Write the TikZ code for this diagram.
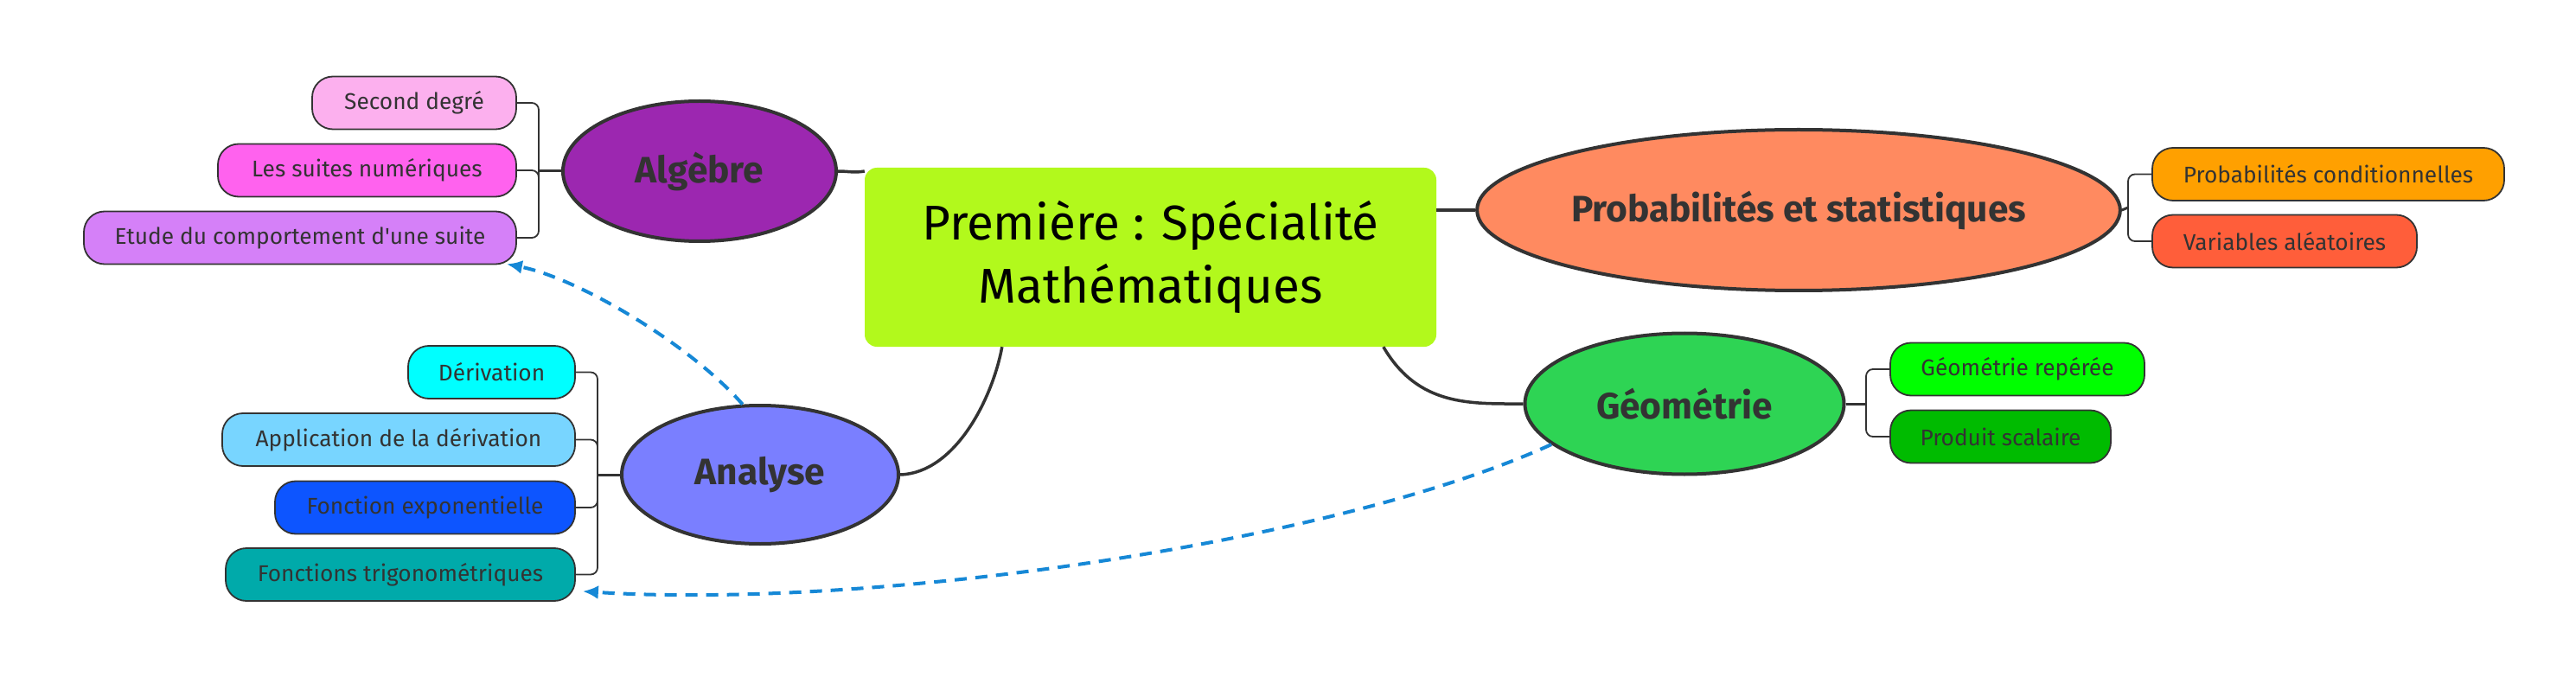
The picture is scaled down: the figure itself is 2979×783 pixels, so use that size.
\documentclass[tikz,border=0pt]{standalone}
\usepackage{fontspec}
\setmainfont{Fira Sans}[Ligatures=TeXOff]
\usetikzlibrary{shapes.geometric,arrows.meta,calc}
\definecolor{ink}{HTML}{333333}
\definecolor{cmain}{HTML}{B2F91C}
\definecolor{calg}{HTML}{9C27B0}
\definecolor{csd}{HTML}{FCB0EE}
\definecolor{cls}{HTML}{FF62EE}
\definecolor{cet}{HTML}{D580F8}
\definecolor{cana}{HTML}{7A7FFF}
\definecolor{cdv}{HTML}{00FFFF}
\definecolor{cap}{HTML}{78D5FF}
\definecolor{cfe}{HTML}{0D55FF}
\definecolor{ctr}{HTML}{00AAAA}
\definecolor{cprob}{HTML}{FF8A60}
\definecolor{cpc}{HTML}{FFA000}
\definecolor{cva}{HTML}{FF5E3A}
\definecolor{cgeo}{HTML}{2ED454}
\definecolor{cgr}{HTML}{00FF00}
\definecolor{cps}{HTML}{00BB00}
\definecolor{cdash}{HTML}{1688D6}
\begin{document}
\begin{tikzpicture}[x=1pt,y=-1pt,
  leaf/.style={draw=ink,line width=1.8pt,rounded corners=24pt,minimum height=61pt,inner sep=0pt,
    text=ink,font=\fontsize{26.3}{30}\selectfont},
  topic/.style={ellipse,draw=ink,line width=4pt,inner sep=0pt,text=ink,
    font=\fontsize{42.5}{48}\selectfont\bfseries},
  trunk/.style={draw=ink,line width=3.5pt},
  twig/.style={draw=ink,line width=1.8pt,rounded corners=8pt},
  stub/.style={draw=ink,line width=3pt},
  xref/.style={draw=cdash,line width=4pt,dash pattern=on 14pt off 10pt,
    -{Latex[length=18pt,width=16pt]}}]
\useasboundingbox[fill=white] (0,0) rectangle (2979,783);

% central
\node[fill=cmain,rounded corners=14pt,minimum width=661pt,minimum height=207pt,inner sep=0pt,
  align=center,font=\fontsize{56.5}{73}\selectfont] (c) at (1330.5,297.5)
  {Première : Spécialité\\Mathématiques};

% topics
\node[topic,fill=calg,minimum width=316pt,minimum height=162pt] (alg) at (809,198) {Algèbre};
\node[topic,fill=cana,minimum width=320pt,minimum height=160pt] (ana) at (879,549) {Analyse};
\node[topic,fill=cprob,minimum width=712pt,minimum height=186pt] (prob) at (2080,243) {Probabilités et statistiques};
\node[topic,fill=cgeo,minimum width=369pt,minimum height=163pt] (geo) at (1948,467) {Géométrie};

% Algebre leaves
\node[leaf,fill=csd,minimum width=236pt] (sd) at (479,119) {Second degré};
\node[leaf,fill=cls,minimum width=345pt] (ls) at (424.5,197) {Les suites numériques};
\node[leaf,fill=cet,minimum width=500pt] (et) at (347,275) {Etude du comportement d'une suite};
% Analyse leaves
\node[leaf,fill=cdv,minimum width=193pt] (dv) at (568.5,430.5) {Dérivation};
\node[leaf,fill=cap,minimum width=408pt] (ap) at (461,508.5) {Application de la dérivation};
\node[leaf,fill=cfe,minimum width=347pt] (fe) at (491.5,587) {Fonction exponentielle};
\node[leaf,fill=ctr,minimum width=404pt] (tr) at (463,664.5) {Fonctions trigonométriques};
% Probabilites leaves
\node[leaf,fill=cpc,minimum width=407pt] (pc) at (2692.5,201.5) {Probabilités conditionnelles};
\node[leaf,fill=cva,minimum width=306pt] (va) at (2642,279) {Variables aléatoires};
% Geometrie leaves
\node[leaf,fill=cgr,minimum width=294pt] (gr) at (2333,427) {Géométrie repérée};
\node[leaf,fill=cps,minimum width=255pt] (ps) at (2313.5,505) {Produit scalaire};

% bracket junctions
\coordinate (ja) at (623,198);
\coordinate (jn) at (691,549);
\coordinate (jp) at (2461,240);
\coordinate (jg) at (2158,467);

\draw[stub] (alg.west) -- (ja);
\draw[twig] (sd.east) -| (ja);
\draw[twig] (ls.east) -| (ja);
\draw[twig] (et.east) -| (ja);

\draw[stub] (ana.west) -- (jn);
\draw[twig] (dv.east) -| (jn);
\draw[twig] (ap.east) -| (jn);
\draw[twig] (fe.east) -| (jn);
\draw[twig] (tr.east) -| (jn);

\draw[stub] (prob.east) -- (jp);
\draw[twig] (pc.west) -| (jp);
\draw[twig] (va.west) -| (jp);

\draw[stub] (geo.east) -- (jg);
\draw[twig] (gr.west) -| (jg);
\draw[twig] (ps.west) -| (jg);

% trunk connectors
\draw[trunk] (alg.east) to[out=0,in=190] (c.west |- alg.east);
\draw[trunk] (ana.east) .. controls (1105,547) and (1148,460) .. ($(c.south west)+(159,0)$);
\draw[trunk] ($(c.south west)+(600,0)$) .. controls (1640,470) and (1700,467) .. (geo.west);
\draw[trunk] (c.east |- prob.west) to[out=0,in=180] (prob.west);

% cross links
\draw[xref] (ana.104) .. controls (800,400) and (670,322) .. ($(et.south east)+(-12,-1)$);
\draw[xref] (geo.197) .. controls (1540,630) and (1000,705) .. ($(tr.south east)+(8,-12)$);
\end{tikzpicture}
\end{document}
